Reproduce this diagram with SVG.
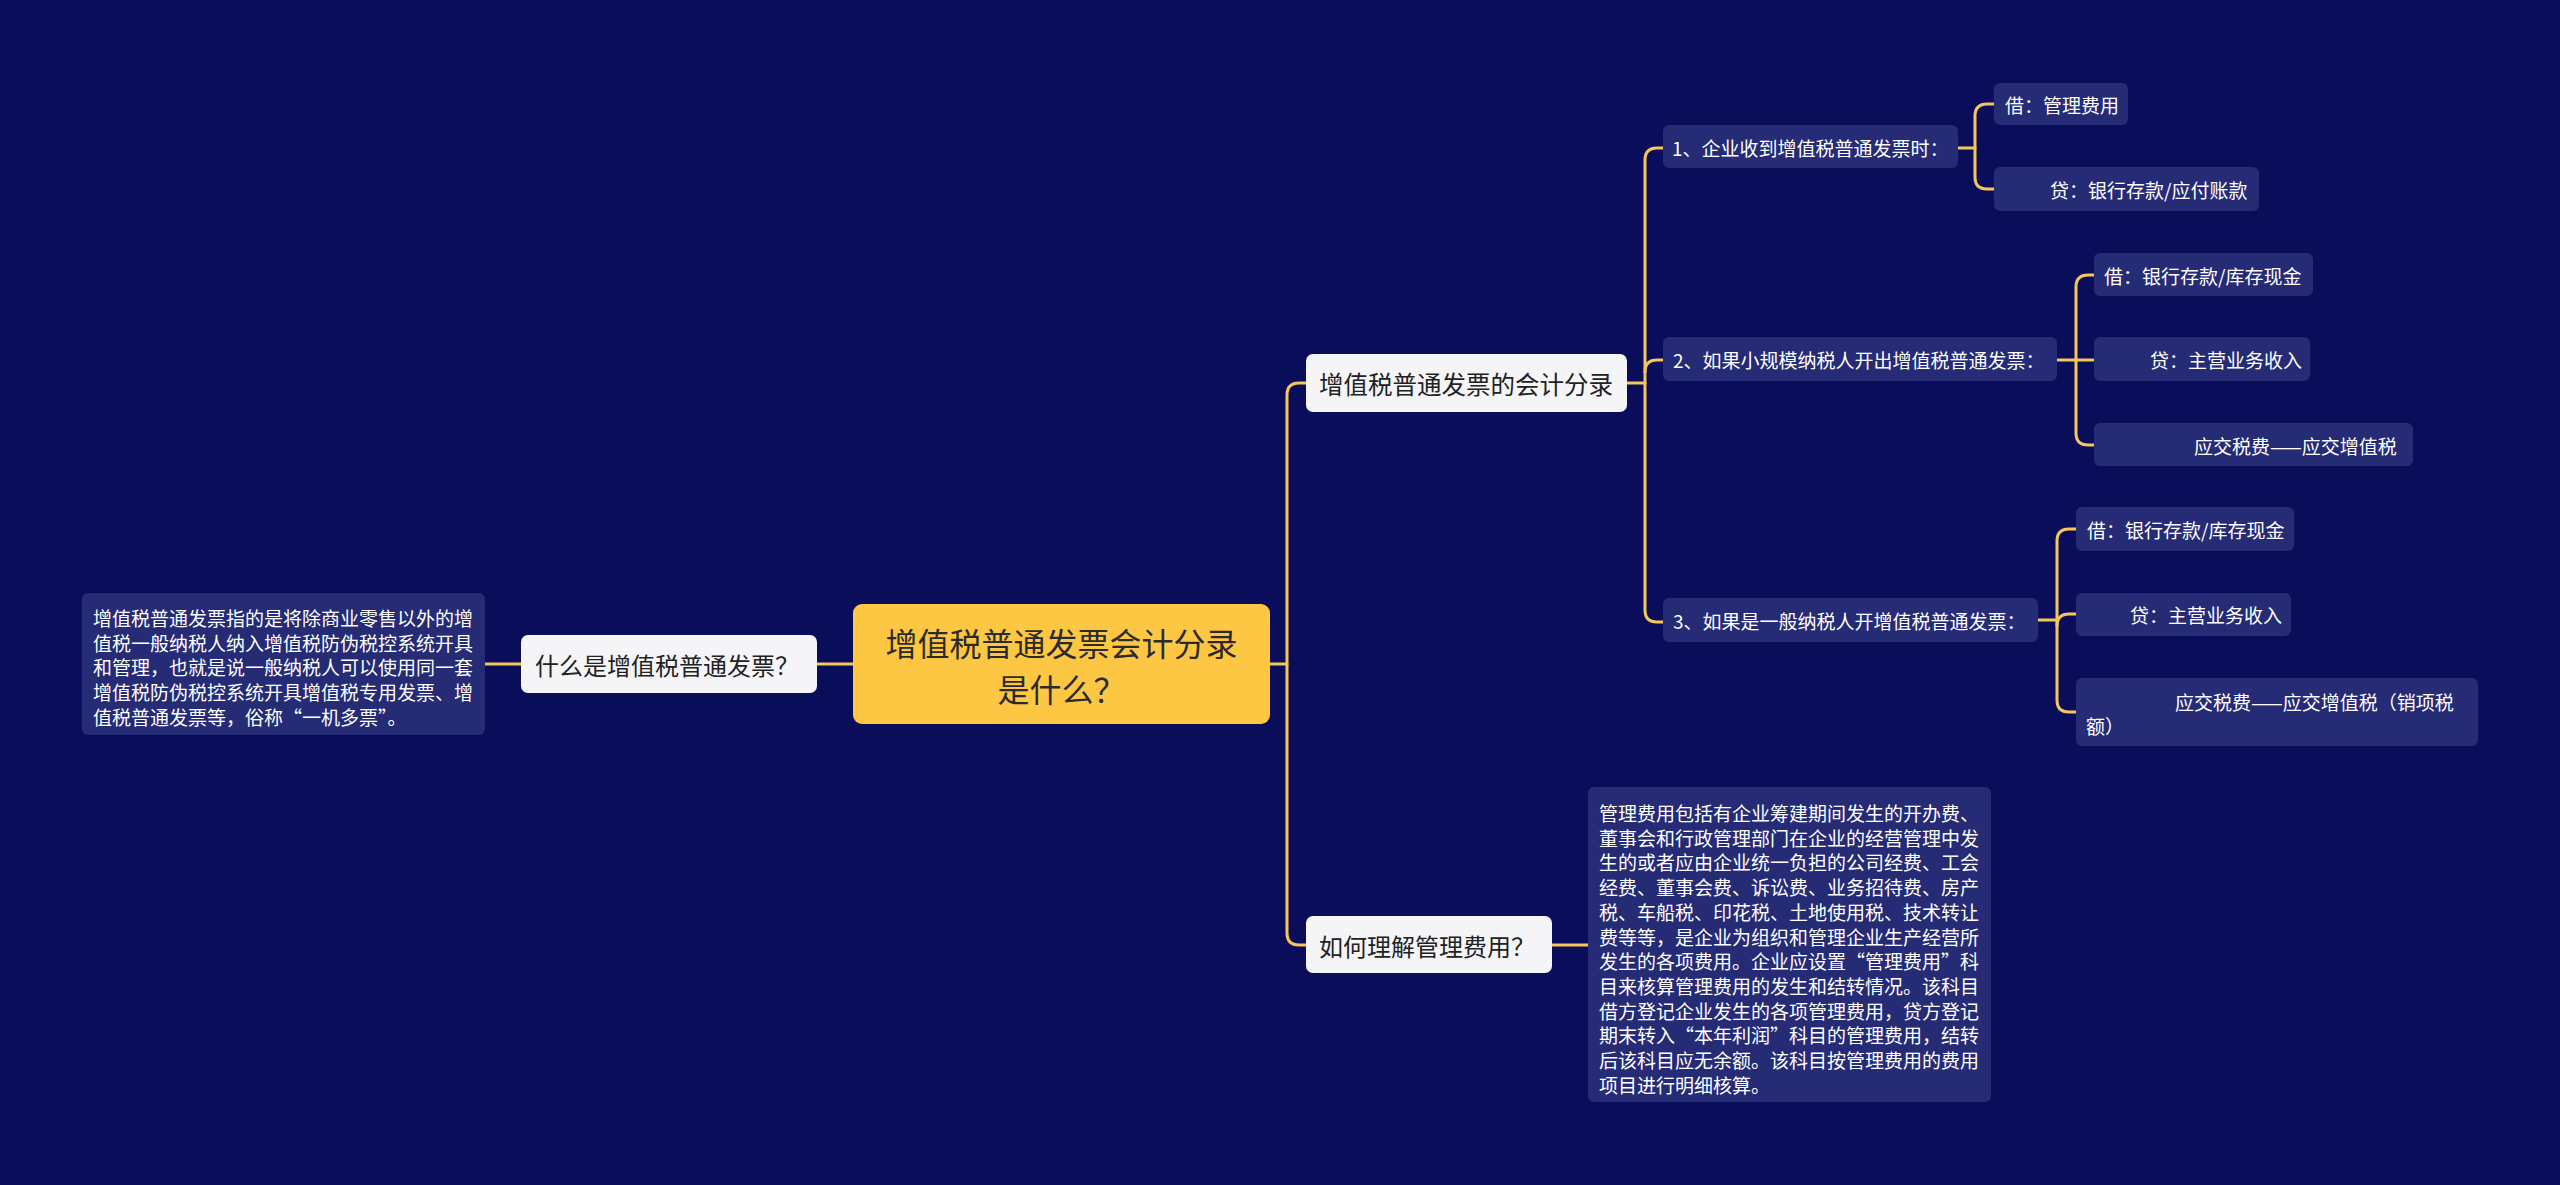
<svg xmlns="http://www.w3.org/2000/svg" width="2560" height="1185" viewBox="0 0 2560 1185">
<style>
.bg{fill:#0a0e5a}
.root{fill:#fdc744}
.main{fill:#f5f5f7}
.box{fill:#252b74}
.tr{font-family:"Noto Sans CJK SC","Noto Sans",sans-serif;fill:#2b2b2b;font-size:32px}
.tm{font-family:"Noto Sans CJK SC","Noto Sans",sans-serif;fill:#222222;font-size:24px}
.tb{font-family:"Noto Sans CJK SC","Noto Sans",sans-serif;fill:#ffffff;font-size:19px}
.ln{fill:none;stroke:#f5c75a;stroke-width:3;stroke-linecap:round}
</style>
<rect class="bg" x="0" y="0" width="2560" height="1185"/>
<g id="connectors">
<path class="ln" d="M485 664 H521 M817 664 H853"/>
<path class="ln" d="M1270 664 H1287"/>
<path class="ln" d="M1306 383 H1299 Q1287 383 1287 395 V933 Q1287 945 1299 945 H1306"/>
<path class="ln" d="M1627 383 H1645"/>
<path class="ln" d="M1663 148 H1657 Q1645 148 1645 160 V610 Q1645 622 1657 622 H1663"/>
<path class="ln" d="M1645 372 Q1645 360 1657 360 H1663"/>
<path class="ln" d="M1958 148 H1975"/>
<path class="ln" d="M1994 104 H1987 Q1975 104 1975 116 V177 Q1975 189 1987 189 H1994"/>
<path class="ln" d="M2057 360 H2094"/>
<path class="ln" d="M2094 275 H2088 Q2076 275 2076 287 V433 Q2076 445 2088 445 H2094"/>
<path class="ln" d="M2038 620 H2057"/>
<path class="ln" d="M2076 529 H2069 Q2057 529 2057 541 V700 Q2057 712 2069 712 H2076"/>
<path class="ln" d="M2057 626 Q2057 614 2069 614 H2076"/>
<path class="ln" d="M1552 945 H1588"/>
</g>
<g id="root">
<rect class="root" x="853" y="604" width="417" height="120" rx="9"/>
<text class="tr" x="1061.5" y="642" text-anchor="middle" dominant-baseline="central">增值税普通发票会计分录</text>
<text class="tr" x="1061.5" y="688" text-anchor="middle" dominant-baseline="central">是什么？</text>
</g>
<g id="what">
<rect class="main" x="521" y="635" width="296" height="58" rx="7"/>
<text class="tm" x="535" y="664" dominant-baseline="central">什么是增值税普通发票？</text>
</g>
<g id="what-desc">
<rect class="box" x="82" y="593" width="403" height="142" rx="6"/>
<text class="tb" dominant-baseline="central">
<tspan x="93" y="617">增值税普通发票指的是将除商业零售以外的增</tspan>
<tspan x="93" y="641.7">值税一般纳税人纳入增值税防伪税控系统开具</tspan>
<tspan x="93" y="666.4">和管理，也就是说一般纳税人可以使用同一套</tspan>
<tspan x="93" y="691.1">增值税防伪税控系统开具增值税专用发票、增</tspan>
<tspan x="93" y="715.8">值税普通发票等，俗称“一机多票”。</tspan>
</text>
</g>
<g id="entry">
<rect class="main" x="1306" y="354" width="321" height="58" rx="7"/>
<text class="tm" x="1319" y="383" dominant-baseline="central" style="font-size:24.5px">增值税普通发票的会计分录</text>
</g>
<g id="n1">
<rect class="box" x="1663" y="125" width="295" height="43" rx="6"/>
<text class="tb" x="1672" y="147" dominant-baseline="central">1、企业收到增值税普通发票时：</text>
</g>
<g id="n1a">
<rect class="box" x="1994" y="83" width="134" height="42" rx="6"/>
<text class="tb" x="2005" y="104" dominant-baseline="central">借：管理费用</text>
</g>
<g id="n1b">
<rect class="box" x="1994" y="167" width="265" height="44" rx="6"/>
<text class="tb" x="2050" y="189" dominant-baseline="central">贷：银行存款/应付账款</text>
</g>
<g id="n2">
<rect class="box" x="1663" y="337" width="394" height="44" rx="6"/>
<text class="tb" x="1673" y="359" dominant-baseline="central">2、如果小规模纳税人开出增值税普通发票：</text>
</g>
<g id="n2a">
<rect class="box" x="2094" y="253" width="219" height="43" rx="6"/>
<text class="tb" x="2104" y="275" dominant-baseline="central">借：银行存款/库存现金</text>
</g>
<g id="n2b">
<rect class="box" x="2094" y="337" width="216" height="44" rx="6"/>
<text class="tb" x="2150" y="359" dominant-baseline="central">贷：主营业务收入</text>
</g>
<g id="n2c">
<rect class="box" x="2094" y="423" width="319" height="43" rx="6"/>
<text class="tb" x="2194" y="445" dominant-baseline="central">应交税费——应交增值税</text>
</g>
<g id="n3">
<rect class="box" x="1663" y="598" width="375" height="44" rx="6"/>
<text class="tb" x="1673" y="620" dominant-baseline="central">3、如果是一般纳税人开增值税普通发票：</text>
</g>
<g id="n3a">
<rect class="box" x="2076" y="507" width="218" height="44" rx="6"/>
<text class="tb" x="2087" y="529" dominant-baseline="central">借：银行存款/库存现金</text>
</g>
<g id="n3b">
<rect class="box" x="2076" y="593" width="215" height="43" rx="6"/>
<text class="tb" x="2130" y="614" dominant-baseline="central">贷：主营业务收入</text>
</g>
<g id="n3c">
<rect class="box" x="2076" y="678" width="402" height="68" rx="6"/>
<text class="tb" dominant-baseline="central">
<tspan x="2175" y="701">应交税费——应交增值税（销项税</tspan>
<tspan x="2086" y="725">额）</tspan>
</text>
</g>
<g id="mgmt">
<rect class="main" x="1306" y="916" width="246" height="57" rx="7"/>
<text class="tm" x="1319" y="945" dominant-baseline="central">如何理解管理费用？</text>
</g>
<g id="mgmt-desc">
<rect class="box" x="1588" y="787" width="403" height="315" rx="6"/>
<text class="tb" dominant-baseline="central">
<tspan x="1599" y="812">管理费用包括有企业筹建期间发生的开办费、</tspan>
<tspan x="1599" y="836.7">董事会和行政管理部门在企业的经营管理中发</tspan>
<tspan x="1599" y="861.4">生的或者应由企业统一负担的公司经费、工会</tspan>
<tspan x="1599" y="886.1">经费、董事会费、诉讼费、业务招待费、房产</tspan>
<tspan x="1599" y="910.8">税、车船税、印花税、土地使用税、技术转让</tspan>
<tspan x="1599" y="935.5">费等等，是企业为组织和管理企业生产经营所</tspan>
<tspan x="1599" y="960.2">发生的各项费用。企业应设置“管理费用”科</tspan>
<tspan x="1599" y="984.9">目来核算管理费用的发生和结转情况。该科目</tspan>
<tspan x="1599" y="1009.6">借方登记企业发生的各项管理费用，贷方登记</tspan>
<tspan x="1599" y="1034.3">期末转入“本年利润”科目的管理费用，结转</tspan>
<tspan x="1599" y="1059">后该科目应无余额。该科目按管理费用的费用</tspan>
<tspan x="1599" y="1083.7">项目进行明细核算。</tspan>
</text>
</g>
</svg>
